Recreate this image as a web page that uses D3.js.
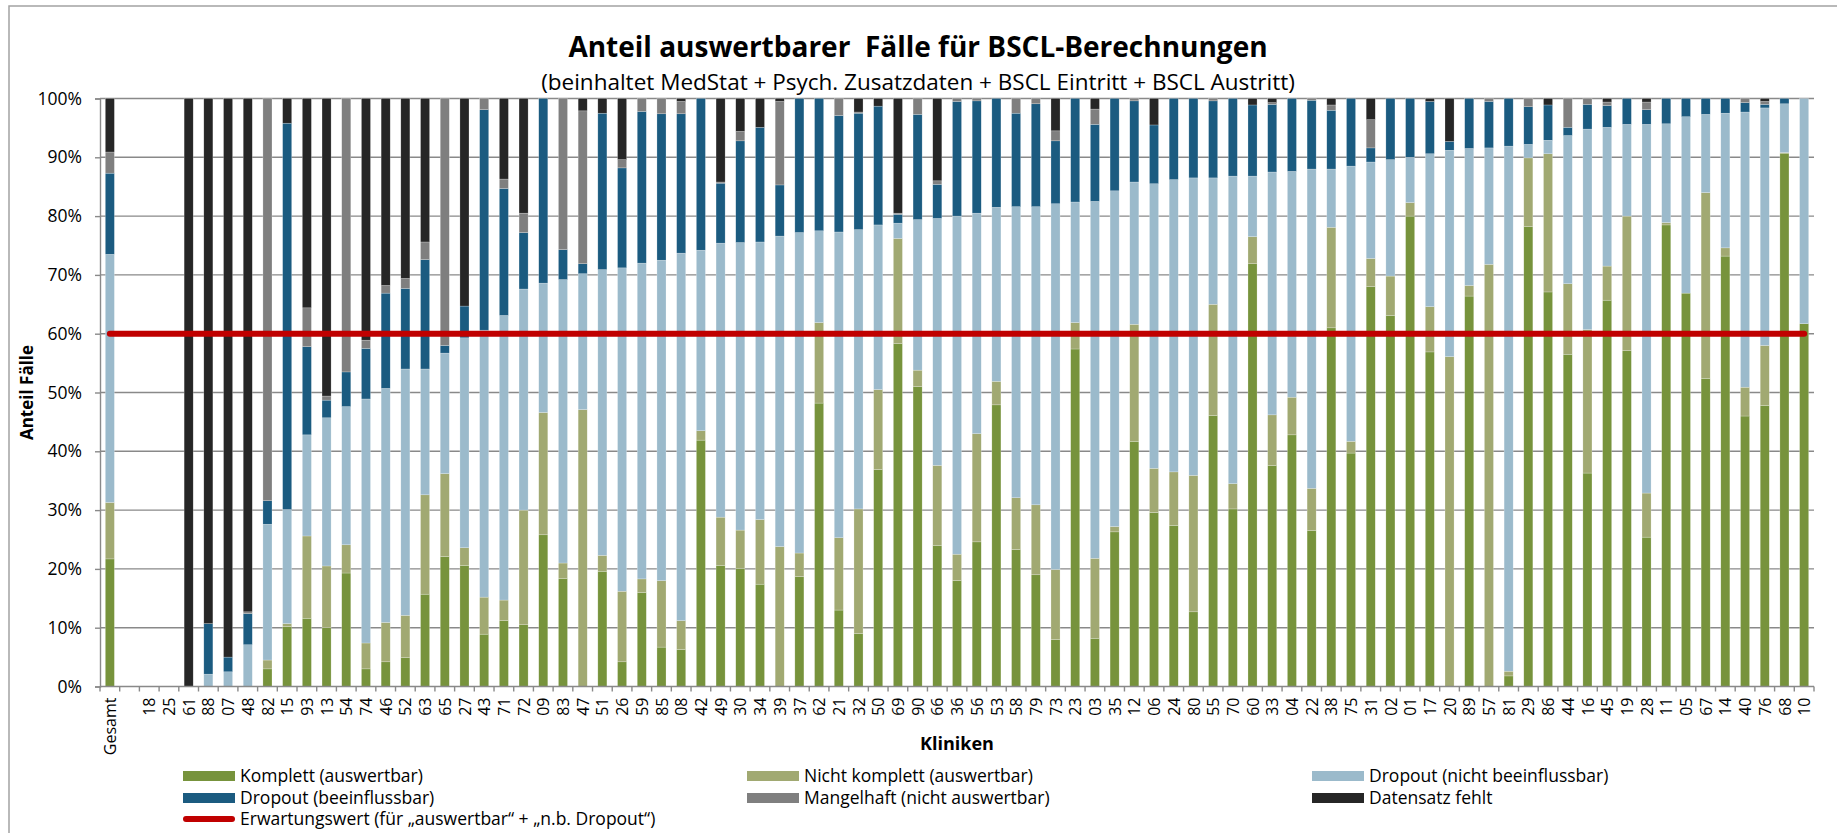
<!DOCTYPE html>
<html>
<head>
<meta charset="utf-8">
<script src="https://cdn.jsdelivr.net/npm/d3@7"></script>
<style>
  body { margin: 0; background: #ffffff; }
  svg { display: block; font-family: "Open Sans", "Noto Sans", sans-serif; }
</style>
</head>
<body>
<svg id="chart"></svg>
<script>
// Kliniken (x-Achse), "" = Leerspalte nach Gesamt
const categories = ["Gesamt", "", "18", "25", "61", "88", "07", "48", "82", "15", "93", "13", "54", "74", "46",
    "52", "63", "65", "27", "43", "71", "72", "09", "83", "47", "51", "26", "59", "85", "08",
    "42", "49", "30", "34", "39", "37", "62", "21", "32", "50", "69", "90", "66", "36",
    "56", "53", "58", "79", "73", "23", "03", "35", "12", "06", "24", "80", "55", "70", "60",
    "33", "04", "22", "38", "75", "31", "02", "01", "17", "20", "89", "57", "81", "29", "86",
    "44", "16", "45", "19", "28", "11", "05", "67", "14", "40", "76", "68", "10"];

// Anteile in %, von unten nach oben gestapelt
const komplett = [21.7, 0, 0, 0, 0, 0, 0, 0, 3.0, 10.2, 11.6, 10.0, 19.3, 3.0, 4.2,
    4.9, 15.7, 22.1, 20.6, 8.9, 11.2, 10.5, 25.8, 18.4, 0, 19.6, 4.2, 16.0, 6.7, 6.3,
    41.9, 20.6, 20.1, 17.4, 0, 18.7, 48.2, 13.0, 9.0, 36.9, 58.3, 51.0, 24.0, 18.0,
    24.6, 47.9, 23.3, 19.0, 8.0, 57.4, 8.2, 26.3, 41.7, 29.6, 27.4, 12.7, 46.1, 30.2, 71.9,
    37.6, 42.8, 26.5, 61.0, 39.7, 68.0, 63.1, 80.0, 56.9, 0, 66.4, 0, 1.8, 78.2, 67.1,
    56.5, 36.3, 65.7, 57.1, 25.4, 78.5, 66.9, 52.4, 73.2, 46.0, 47.8, 90.7, 61.7];

const nichtKomplett = [9.6, 0, 0, 0, 0, 0, 0, 0, 1.5, 0.5, 14.0, 10.5, 4.8, 4.4, 6.7,
    7.2, 16.9, 14.1, 3.0, 6.3, 3.5, 19.5, 20.8, 2.6, 47.1, 2.7, 12.0, 2.3, 11.3, 4.9,
    1.6, 8.2, 6.5, 11.0, 23.8, 4.0, 13.7, 12.3, 21.2, 13.6, 17.9, 2.8, 13.6, 4.5,
    18.4, 4.0, 8.8, 11.9, 11.9, 4.5, 13.6, 0.9, 19.9, 7.5, 9.1, 23.2, 18.9, 4.3, 4.6,
    8.6, 6.4, 7.2, 17.1, 2.0, 4.8, 6.7, 2.3, 7.7, 56.1, 1.8, 71.8, 0.8, 11.7, 23.5,
    12.0, 24.4, 5.8, 22.9, 7.5, 0.4, 0, 31.6, 1.4, 4.9, 10.2, 0.1, 0];

const dropoutNichtBeeinflussbar = [42.2, 0, 0, 0, 0, 2.1, 2.5, 7.1, 23.1, 19.4, 17.2, 25.2, 23.5, 41.5, 39.8,
    41.9, 21.4, 20.5, 35.7, 45.4, 48.4, 37.6, 22.0, 48.2, 23.1, 48.6, 55.0, 53.7, 54.5, 62.5,
    30.7, 46.6, 48.9, 47.2, 52.8, 54.5, 15.6, 52.0, 47.5, 28.0, 2.6, 25.6, 42.0, 57.5,
    37.5, 29.6, 49.5, 50.7, 62.2, 20.5, 60.7, 57.1, 24.2, 48.4, 49.7, 50.6, 21.5, 52.3, 10.3,
    41.3, 38.4, 54.3, 9.9, 46.8, 16.4, 19.8, 7.7, 26.0, 35.1, 23.3, 19.8, 89.3, 2.3, 2.3,
    25.2, 34.1, 23.6, 15.6, 62.7, 16.8, 30.0, 13.3, 22.9, 46.8, 40.4, 8.3, 38.3];

const dropoutBeeinflussbar = [13.8, 0, 0, 0, 0, 8.6, 2.5, 5.3, 4.0, 65.7, 15.0, 3.0, 5.9, 8.6, 16.2,
    13.7, 18.6, 1.3, 5.4, 37.5, 21.6, 9.6, 31.4, 5.1, 1.7, 26.6, 17.0, 25.8, 24.9, 23.7,
    25.8, 10.2, 17.3, 19.5, 8.7, 22.8, 22.5, 19.8, 19.8, 20.2, 1.5, 17.9, 5.8, 19.5,
    19.1, 18.5, 15.9, 17.5, 10.7, 17.6, 13.1, 15.7, 13.8, 10.0, 13.8, 13.5, 13.1, 13.2, 12.1,
    11.5, 12.4, 11.7, 10.0, 11.5, 2.4, 10.4, 10.0, 8.9, 1.5, 8.5, 7.9, 8.1, 6.4, 6.0,
    1.4, 4.2, 3.7, 4.4, 2.5, 4.3, 3.1, 2.7, 2.5, 1.6, 0.6, 0.9, 0];

const mangelhaft = [3.6, 0, 0, 0, 0, 0, 0, 0.3, 68.4, 0, 6.6, 0.7, 46.5, 1.4, 1.3,
    1.7, 3.0, 42.0, 0, 1.9, 1.6, 3.3, 0, 25.7, 26.0, 0, 1.4, 2.2, 2.6, 2.1,
    0, 0.2, 1.6, 0, 14.2, 0, 0, 2.9, 0.2, 0, 0.2, 2.7, 0.6, 0.5,
    0.4, 0, 2.5, 0.9, 1.7, 0, 2.6, 0, 0.4, 0, 0, 0, 0.4, 0, 0,
    0.3, 0, 0.3, 0.9, 0, 4.8, 0, 0, 0, 0, 0, 0.5, 0, 1.4, 0,
    4.9, 1.0, 0.6, 0, 1.3, 0, 0, 0, 0, 0.7, 0.5, 0, 0];

const datensatzFehlt = [9.1, 0, 0, 0, 100, 89.3, 95.0, 87.3, 0, 4.2, 35.6, 50.6, 0, 41.1, 31.8,
    30.6, 24.4, 0, 35.3, 0, 13.7, 19.5, 0, 0, 2.1, 2.5, 10.4, 0, 0, 0.5,
    0, 14.2, 5.6, 4.9, 0.5, 0, 0, 0, 2.3, 1.3, 19.5, 0, 14.0, 0,
    0, 0, 0, 0, 5.5, 0, 1.8, 0, 0, 4.5, 0, 0, 0, 0, 1.1,
    0.7, 0, 0, 1.1, 0, 3.6, 0, 0, 0.5, 7.3, 0, 0, 0, 0, 1.1,
    0, 0, 0.6, 0, 0.6, 0, 0, 0, 0, 0, 0.5, 0, 0];

const seriesNames = ["Komplett (auswertbar)", "Nicht komplett (auswertbar)", "Dropout (nicht beeinflussbar)",
    "Dropout (beeinflussbar)", "Mangelhaft (nicht auswertbar)", "Datensatz fehlt"];
const seriesColors = ["#77933c", "#a1a972", "#9bbacb", "#1b5b80", "#7f7f7f", "#262626"];

const erwartungswert = 0.6;
const expectedLabel = "Erwartungswert (für \u201Eauswertbar\u201C + \u201En.b. Dropout\u201C)";
const yTicks = [0, 0.1, 0.2, 0.3, 0.4, 0.5, 0.6, 0.7, 0.8, 0.9, 1.0];

// Dimensions
const width = 1837;
const height = 833;
const plotLeft = 100, plotRight = 1814, plotTop = 98.5, plotBottom = 686.5;

const svg = d3.select("#chart")
    .attr("width", width)
    .attr("height", height)
    .attr("viewBox", [0, 0, width, height]);

// outer chart frame (runs off right/bottom)
svg.append("rect")
    .attr("x", 9).attr("y", 6)
    .attr("width", width).attr("height", height)
    .attr("fill", "#ffffff")
    .attr("stroke", "#a3a3a3")
    .attr("stroke-width", 1.5);

// rows for the stack
const rows = categories.map((c, i) => {
    const r = { idx: i, label: c };
    r[seriesNames[0]] = komplett[i];
    r[seriesNames[1]] = nichtKomplett[i];
    r[seriesNames[2]] = dropoutNichtBeeinflussbar[i];
    r[seriesNames[3]] = dropoutBeeinflussbar[i];
    r[seriesNames[4]] = mangelhaft[i];
    r[seriesNames[5]] = datensatzFehlt[i];
    return r;
});

const stacked = d3.stack()
    .keys(seriesNames)
    .offset(d3.stackOffsetExpand)(rows);

// Scales
const x = d3.scaleBand()
    .domain(d3.range(categories.length))
    .range([plotLeft, plotRight])
    .paddingInner(0.54)
    .paddingOuter(0.27);

const y = d3.scaleLinear().domain([0, 1]).range([plotBottom, plotTop]);

const color = d3.scaleOrdinal().domain(seriesNames).range(seriesColors);

// Gridlines
svg.append("g")
    .selectAll("line")
    .data(yTicks.filter(d => d > 0))
    .join("line")
    .attr("x1", plotLeft).attr("x2", plotRight)
    .attr("y1", d => y(d)).attr("y2", d => y(d))
    .attr("stroke", "#898989")
    .attr("stroke-width", 1.4);

// Bars
svg.append("g")
    .selectAll("g")
    .data(stacked)
    .join("g")
    .attr("fill", d => color(d.key))
    .selectAll("rect")
    .data(d => d)
    .join("rect")
    .attr("x", d => x(d.data.idx))
    .attr("width", x.bandwidth())
    .attr("y", d => y(d[1]))
    .attr("height", d => Math.max(0, y(d[0]) - y(d[1])))
    .attr("stroke", "#ffffff")
    .attr("stroke-opacity", 0.45)
    .attr("stroke-width", 0.5);

// Y axis
const yAxis = svg.append("g")
    .attr("transform", `translate(${plotLeft},0)`)
    .call(d3.axisLeft(y).tickValues(yTicks).tickFormat(d3.format(".0%")).tickSize(5).tickPadding(13));
yAxis.select(".domain").attr("stroke", "#898989").attr("stroke-width", 1.4);
yAxis.selectAll(".tick line").attr("stroke", "#898989").attr("stroke-width", 1.4);
yAxis.selectAll(".tick text")
    .attr("fill", "#000000")
    .style("font-size", "17.5px")
    .style("font-family", "'Open Sans', sans-serif");

// X axis: baseline + ticks between categories
const step = x.step();
const gap = (step - x.bandwidth()) / 2;
const xAxis = svg.append("g");
xAxis.append("line")
    .attr("x1", plotLeft).attr("x2", plotRight)
    .attr("y1", plotBottom).attr("y2", plotBottom)
    .attr("stroke", "#898989").attr("stroke-width", 1.4);
xAxis.selectAll(".xtick")
    .data(d3.range(categories.length + 1))
    .join("line")
    .attr("class", "xtick")
    .attr("x1", i => i < categories.length ? x(i) - gap : x(i - 1) + x.bandwidth() + gap)
    .attr("x2", i => i < categories.length ? x(i) - gap : x(i - 1) + x.bandwidth() + gap)
    .attr("y1", plotBottom).attr("y2", plotBottom + 5)
    .attr("stroke", "#898989").attr("stroke-width", 1.4);
xAxis.selectAll(".xlabel")
    .data(categories)
    .join("text")
    .attr("class", "xlabel")
    .attr("transform", (d, i) => `translate(${x(i) + x.bandwidth() / 2 + 0.5},${plotBottom + 11}) rotate(-90)`)
    .attr("text-anchor", "end")
    .attr("dy", "0.35em")
    .style("font-size", "16px")
    .text(d => d);

// Expected value line (60%)
const line = d3.line()
    .x(i => x(i) + x.bandwidth() / 2)
    .y(() => y(erwartungswert));
svg.append("path")
    .datum(d3.range(categories.length))
    .attr("d", line)
    .attr("fill", "none")
    .attr("stroke", "#c00000")
    .attr("stroke-width", 6)
    .attr("stroke-linecap", "round");

// Titles
svg.append("text")
    .attr("x", 918).attr("y", 57)
    .attr("text-anchor", "middle")
    .style("font-size", "28px")
    .style("font-weight", "bold")
    .style("white-space", "pre")
    .text("Anteil auswertbarer  Fälle für BSCL-Berechnungen");

svg.append("text")
    .attr("x", 918).attr("y", 89.5)
    .attr("text-anchor", "middle")
    .style("font-size", "22.5px")
    .text("(beinhaltet MedStat + Psych. Zusatzdaten + BSCL Eintritt + BSCL Austritt)");

svg.append("text")
    .attr("transform", `translate(33,${(plotTop + plotBottom) / 2}) rotate(-90)`)
    .attr("text-anchor", "middle")
    .style("font-size", "17px")
    .style("font-weight", "bold")
    .text("Anteil Fälle");

svg.append("text")
    .attr("x", (plotLeft + plotRight) / 2).attr("y", 750)
    .attr("text-anchor", "middle")
    .style("font-size", "18px")
    .style("font-weight", "bold")
    .text("Kliniken");

// Legend
const legendCols = [183, 747, 1312];
const legendRows = [776, 798, 819];
const legend = svg.append("g");
seriesNames.forEach((name, i) => {
    const cx = legendCols[i % 3];
    const cy = legendRows[Math.floor(i / 3)];
    legend.append("rect")
        .attr("x", cx).attr("y", cy - 5)
        .attr("width", 52).attr("height", 10)
        .attr("fill", color(name));
    legend.append("text")
        .attr("x", cx + 57).attr("y", cy)
        .attr("dy", "0.35em")
        .style("font-size", "17.5px")
        .text(name);
});
legend.append("line")
    .attr("x1", legendCols[0] + 3).attr("x2", legendCols[0] + 49)
    .attr("y1", legendRows[2]).attr("y2", legendRows[2])
    .attr("stroke", "#c00000")
    .attr("stroke-width", 6)
    .attr("stroke-linecap", "round");
legend.append("text")
    .attr("x", legendCols[0] + 57).attr("y", legendRows[2])
    .attr("dy", "0.35em")
    .style("font-size", "17.5px")
    .text(expectedLabel);
</script>
</body>
</html>
